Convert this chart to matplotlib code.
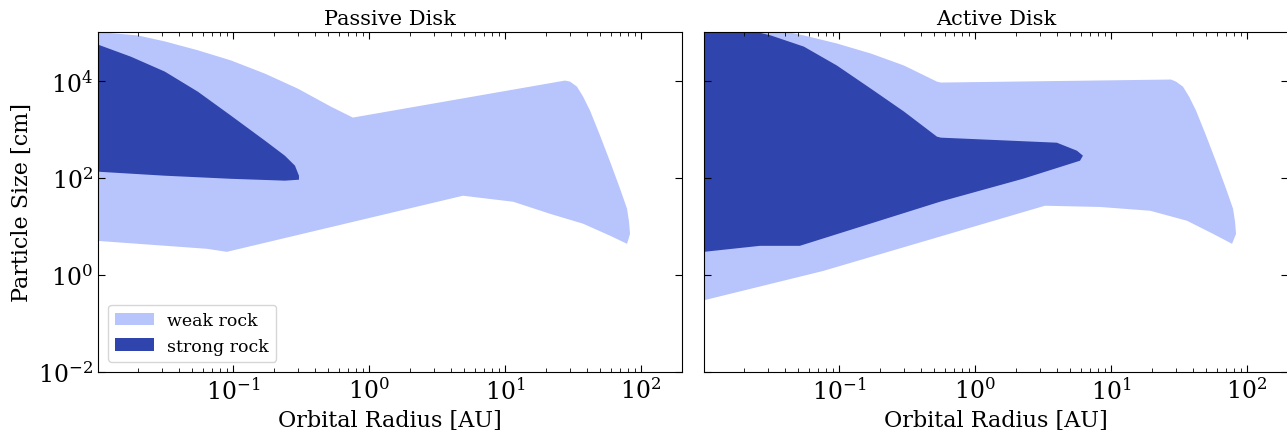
import matplotlib
matplotlib.use("Agg")
import matplotlib.pyplot as plt
import matplotlib.ticker as mticker


# outline of each stable region: upper edge left->right, then lower edge right->left
# orbital radius [AU], particle size [cm]

# passive disk, weak rock
passive_weak_r = [0.0102, 0.02, 0.0316, 0.0553, 0.0967, 0.172, 0.301, 0.526, 0.762,
                  27.6, 30.1, 33.8, 37.5, 42.2, 50, 59.2, 70.1, 78.9, 81.6, 83, 78.9,
                  59.2, 37.5, 21.4, 11.5, 4.91, 0.0903, 0.0645, 0.0102]
passive_weak_a = [1e5, 8.5e4, 6.4e4, 4.2e4, 2.6e4, 1.39e4, 6.8e3, 2.9e3, 1.73e3,
                  1.0e4, 9.5e3, 7.5e3, 4.68e3, 2.4e3, 735, 214, 59.3, 23, 12.4, 7.0, 4.36,
                  6.4, 11.3, 18.1, 32, 42.6, 2.98, 3.44, 5.0]

# passive disk, strong rock
passive_strong_r = [0.0102, 0.0178, 0.0316, 0.0553, 0.0967, 0.172, 0.241, 0.286, 0.306, 0.306,
                    0.241, 0.0967, 0.0316, 0.0102]
passive_strong_a = [5.5e4, 3.1e4, 1.53e4, 5.9e3, 1.9e3, 580, 284, 177, 110, 91,
                    87, 95, 110, 133]

# active disk, weak rock
active_weak_r = [0.0102, 0.0415, 0.0553, 0.0967, 0.172, 0.301, 0.526, 0.562,
                 27.6, 30.1, 33.8, 37.5, 42.2, 50, 59.2, 70.1, 78.9, 81.6, 83, 77.6,
                 56.2, 36.2, 19.4, 8.3, 3.27, 0.0763, 0.0102]
active_weak_a = [1e5, 1e5, 8.5e4, 5.8e4, 3.6e4, 2.04e4, 9.5e3, 9.1e3,
                 1.05e4, 9.5e3, 7.5e3, 4.68e3, 2.4e3, 735, 214, 59.3, 23, 12.4, 7.0, 4.36,
                 7.0, 13, 20.9, 25, 26.5, 1.2, 0.3]

# active disk, strong rock
active_strong_r = [0.0102, 0.0249, 0.0316, 0.0553, 0.0967, 0.172, 0.301, 0.526, 0.562, 4.0, 5.62, 6.22,
                   5.92, 2.25, 0.553, 0.0516, 0.0263, 0.0102]
active_strong_a = [1e5, 1e5, 8.5e4, 5.0e4, 2.04e4, 6.8e3, 2.3e3, 700, 668, 526, 360, 284,
                   224, 95, 32, 3.96, 3.96, 2.98]

titles = ["Passive Disk", "Active Disk"]
weak_color = '#b8c4fc'
strong_color = '#2f44ad'

plt.rcParams['font.family'] = 'DejaVu Serif'
plt.rcParams['mathtext.fontset'] = 'dejavuserif'

fig = plt.figure(figsize=(12.87, 4.31), dpi=100)
W, H = 1287.0, 431.0
ax1 = fig.add_axes([98 / W, 1 - 373 / H, 584 / W, 340 / H])
ax2 = fig.add_axes([704 / W, 1 - 373 / H, 584 / W, 340 / H], sharey=ax1)

panels = [(ax1, passive_weak_r, passive_weak_a, passive_strong_r, passive_strong_a),
          (ax2, active_weak_r, active_weak_a, active_strong_r, active_strong_a)]

for i, (ax, wr, wa, sr, sa) in enumerate(panels):
    ax.fill(wr, wa, color=weak_color, lw=0, label="weak rock")
    ax.fill(sr, sa, color=strong_color, lw=0, label="strong rock")
    ax.set_xscale('log')
    ax.set_yscale('log')
    ax.set_xlim(0.0102, 200)
    ax.set_ylim(1e-2, 1e5)
    ax.yaxis.set_major_locator(mticker.FixedLocator([1e-2, 1e0, 1e2, 1e4]))
    ax.yaxis.set_minor_locator(mticker.NullLocator())
    ax.xaxis.set_major_locator(mticker.LogLocator(base=10, numticks=10))
    ax.xaxis.set_minor_locator(mticker.LogLocator(base=10, subs=range(2, 10), numticks=20))
    ax.tick_params(which='both', direction='in', top=True, right=True, labelsize=17)
    ax.tick_params(which='major', length=5)
    ax.tick_params(which='minor', length=3)
    ax.set_title(titles[i], fontsize=15)
    ax.set_xlabel("Orbital Radius [AU]", fontsize=16)

ax2.tick_params(labelleft=False)
ax1.set_ylabel("Particle Size [cm]", fontsize=16)
ax1.legend(loc='lower left', fontsize=12.5, handlelength=2.2, borderaxespad=0.6)

fig.savefig("out.png", dpi=100)
